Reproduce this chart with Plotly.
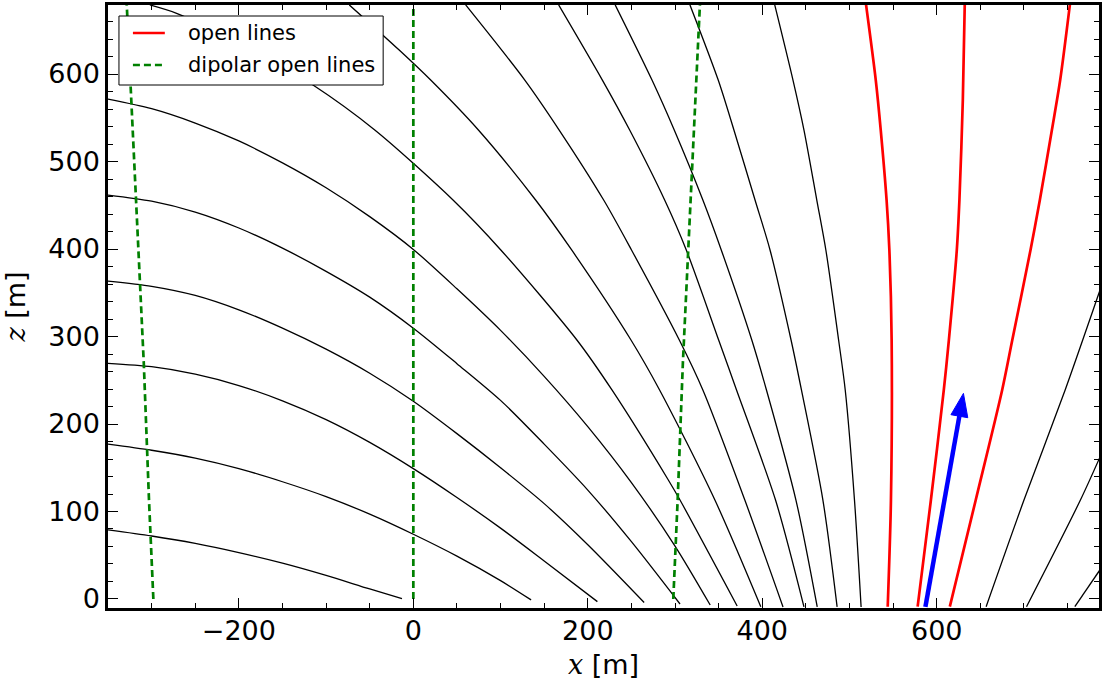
import numpy as np
import plotly.graph_objects as go

# ---------------- field lines (x, z in metres) ----------------
# closed lines entering through the left boundary
fl01_x = [-350, -300, -250, -200, -150, -100, -50, -13]
fl01_z = [79, 72, 63.5, 53, 41, 27, 11.5, 0.5]
fl02_x = [-350, -300, -250, -200, -150, -100, -50, 0, 50, 100, 135]
fl02_z = [177, 170, 161, 149, 134, 117, 97, 74, 49, 21, -1]
fl03_x = [-350, -300, -250, -200, -150, -100, -50, 0, 50, 100, 150, 211]
fl03_z = [269.4, 265.5, 257, 244, 226.5, 205, 179, 149, 116, 81, 43.5, -3]
fl04_x = [-350, -300, -250, -200, -150, -100, -50, 0, 50, 100, 150, 200, 264.6]
fl04_z = [363.4, 357.4, 347, 330.5, 309.5, 285.5, 258, 226, 189, 150, 109, 62, -4]
fl05_x = [-350, -300, -250, -200, -150, -100, -50, 0, 50, 100, 150, 200, 250, 305.7]
fl05_z = [461.7, 454.7, 442.2, 424, 401, 374.5, 345, 309.5, 269, 227, 177, 124.5, 65.5, -5.7]
fl06_x = [-350, -300, -250, -200, -150, -100, -50, 0, 50, 100, 150, 200, 250, 300, 340.3]
fl06_z = [571.4, 560.4, 544, 523.5, 498.5, 470, 437, 399.5, 354.5, 307, 254.5, 197, 133, 60.5, -6.9]
# closed lines entering through the top boundary
fl07_x = [-302, -271.4, -193.4, -115, -44.2, 45.5, 100.3, 187.5, 227.7, 292.3, 305.7, 371.2]
fl07_z = [679, 669.4, 633.1, 587.4, 536, 456, 398.9, 296, 238.9, 136, 113.1, -8]
fl08_x = [-73.4, -16.2, 19.9, 74.6, 140.2, 181.5, 249.5, 282.3, 345.7, 398.3]
fl08_z = [679, 627.4, 593.1, 536, 456, 398.9, 296, 238.9, 113.1, -8.8]
fl09_x = [60, 127.8, 167.2, 218.2, 250.1, 304.9, 331.9, 380, 423.8]
fl09_z = [679, 593.1, 536, 456, 398.9, 296, 238.9, 113.1, -9.1]
fl10_x = [166.6, 216.7, 248, 288.1, 312.9, 350, 370.5, 415.2, 447.8]
fl10_z = [679, 593.1, 536, 456, 398.9, 296, 238.9, 113.1, -9.1]
fl11_x = [231.4, 273.6, 299.1, 331.9, 353, 388, 404.8, 438.6, 463]
fl11_z = [679, 593.1, 536, 456, 398.9, 296, 238.9, 113.1, -9.1]
fl12_x = [317.1, 349.5, 367.5, 391.7, 408.9, 433, 444.9, 469.5, 485.8]
fl12_z = [679, 593.1, 536, 456, 398.9, 296, 238.9, 113.1, -9.1]
fl13_x = [414.3, 435.2, 447.8, 462.5, 472.9, 487.5, 495.1, 505.7, 513.3]
fl13_z = [679, 593.1, 536, 456, 398.9, 296, 238.9, 113.1, -9.1]
# lines leaving through the right boundary
fl14_x = [656.6, 700, 747.2, 786, 791]
fl14_z = [-8.8, 113.1, 238.9, 349.7, 364]
fl15_x = [702.9, 764.7, 791]
fl15_z = [-8.8, 113.1, 171]
fl16_x = [758.3, 791]
fl16_z = [-8.8, 39]

# open lines
open1_x = [519, 530.1, 535.8, 542.5, 545.7, 548.3, 547.5, 543.8]
open1_z = [679, 593.1, 536, 456, 398.9, 296, 113.1, -8.8]
open2_x = [632.1, 629.9, 626, 623, 613.9, 608.1, 593.3, 578.1]
open2_z = [679, 570.3, 456, 398.9, 296, 238.9, 113.1, -8.8]
open3_x = [752.6, 741.5, 732, 718.2, 707.5, 686.6, 675, 644.7, 615]
open3_z = [679, 593.1, 536, 456, 398.9, 296, 238.9, 113.1, -8.8]

# dipolar open lines
dip1_x = [-298, -303, -309, -318, -328.5]
dip1_z = [0, 113, 270, 456, 679]
dip2_x = [0, 0]
dip2_z = [0, 679]
dip3_x = [298, 303, 309, 318, 328.5]
dip3_z = [0, 113, 270, 456, 679]

# direction vector (tail, tip)
arrow_x = [587, 630.6]
arrow_z = [-9, 235]

X_RANGE = [-350, 786]
Z_RANGE = [-10.3, 678.9]

black_lines = [
    (fl01_x, fl01_z), (fl02_x, fl02_z), (fl03_x, fl03_z), (fl04_x, fl04_z),
    (fl05_x, fl05_z), (fl06_x, fl06_z), (fl07_x, fl07_z), (fl08_x, fl08_z),
    (fl09_x, fl09_z), (fl10_x, fl10_z), (fl11_x, fl11_z), (fl12_x, fl12_z),
    (fl13_x, fl13_z), (fl14_x, fl14_z), (fl15_x, fl15_z), (fl16_x, fl16_z),
]
open_lines = [(open1_x, open1_z), (open2_x, open2_z), (open3_x, open3_z)]
dipolar_lines = [(dip1_x, dip1_z), (dip2_x, dip2_z), (dip3_x, dip3_z)]

RED = "#ff0000"
GREEN = "#008000"
BLUE = "#0000ff"
DASH = "7px,4px"

fig = go.Figure()

for x, z in black_lines:
    fig.add_trace(go.Scatter(
        x=x, y=z, mode="lines", showlegend=False, hoverinfo="skip",
        line=dict(color="black", width=1.3, shape="spline", smoothing=0.8),
    ))

for x, z in open_lines:
    fig.add_trace(go.Scatter(
        x=x, y=z, mode="lines", name="open lines", showlegend=False,
        line=dict(color=RED, width=2.7, shape="spline", smoothing=0.8),
    ))

for x, z in dipolar_lines:
    fig.add_trace(go.Scatter(
        x=x, y=z, mode="lines", name="dipolar open lines", showlegend=False,
        line=dict(color=GREEN, width=2.7, dash=DASH),
    ))

# arrow: shaft plus a filled triangular head
HEAD_LEN = 26.5
HEAD_HALF = 9.8
tail = np.array([arrow_x[0], arrow_z[0]], dtype=float)
tip = np.array([arrow_x[1], arrow_z[1]], dtype=float)
u = (tip - tail) / np.linalg.norm(tip - tail)
n = np.array([-u[1], u[0]])
base = tip - HEAD_LEN * u
p1 = base + HEAD_HALF * n
p2 = base - HEAD_HALF * n
fig.add_trace(go.Scatter(
    x=[tail[0], base[0]], y=[tail[1], base[1]], mode="lines",
    showlegend=False, hoverinfo="skip", line=dict(color=BLUE, width=4.5),
))
fig.add_trace(go.Scatter(
    x=[p1[0], tip[0], p2[0], p1[0]], y=[p1[1], tip[1], p2[1], p1[1]],
    mode="lines", fill="toself", fillcolor=BLUE, showlegend=False,
    hoverinfo="skip", line=dict(color=BLUE, width=1),
))

# ---------------- legend box ----------------
L, T, W, H = 108, 5, 994, 603


def px(xp):
    return (xp - L) / W


def py(yp):
    return (T + H - yp) / H


shapes = [
    dict(type="rect", xref="paper", yref="paper", x0=px(119), x1=px(384),
         y0=py(85), y1=py(16), fillcolor="white",
         line=dict(color="black", width=1), layer="above"),
    dict(type="line", xref="paper", yref="paper", x0=px(133), x1=px(165),
         y0=py(33), y1=py(33), line=dict(color=RED, width=2.7), layer="above"),
    dict(type="line", xref="paper", yref="paper", x0=px(133), x1=px(165),
         y0=py(65), y1=py(65), line=dict(color=GREEN, width=2.7, dash=DASH),
         layer="above"),
]
legend_font = dict(family="DejaVu Sans", size=21, color="black")
annotations = [
    dict(xref="paper", yref="paper", x=px(186), y=py(33), text="open lines",
         showarrow=False, xanchor="left", yanchor="middle", font=legend_font),
    dict(xref="paper", yref="paper", x=px(186), y=py(65),
         text="dipolar open lines", showarrow=False, xanchor="left",
         yanchor="middle", font=legend_font),
]

tick_font = dict(family="DejaVu Sans", size=27, color="black")
axis_common = dict(
    showline=True, linecolor="black", linewidth=2.5, mirror="allticks",
    ticks="inside", ticklen=10, tickwidth=1.3, tickcolor="black",
    showgrid=False, zeroline=False, tickfont=tick_font,
)

fig.update_layout(
    width=1102, height=684,
    margin=dict(l=L, r=0, t=T, b=684 - T - H, pad=0),
    paper_bgcolor="white", plot_bgcolor="white",
    showlegend=False,
    shapes=shapes, annotations=annotations,
    xaxis=dict(
        range=X_RANGE, tick0=0, dtick=200,
        minor=dict(ticks="inside", ticklen=5, tickwidth=1.1, tickcolor="black",
                   dtick=50, tick0=0, showgrid=False),
        ticklabelstandoff=-3,
        title=dict(text="<span style=\"font-family:DejaVu Serif\"><i>x</i></span> [m]",
                   font=dict(family="DejaVu Sans", size=27, color="black"),
                   standoff=10),
        **axis_common,
    ),
    yaxis=dict(
        range=Z_RANGE, tick0=0, dtick=100,
        minor=dict(ticks="inside", ticklen=5, tickwidth=1.1, tickcolor="black",
                   dtick=20, tick0=0, showgrid=False),
        ticklabelstandoff=0,
        title=dict(text="<span style=\"font-family:DejaVu Serif\"><i>z</i></span> [m]",
                   font=dict(family="DejaVu Sans", size=27, color="black"),
                   standoff=16),
        **axis_common,
    ),
)

fig.write_html("out.html")
